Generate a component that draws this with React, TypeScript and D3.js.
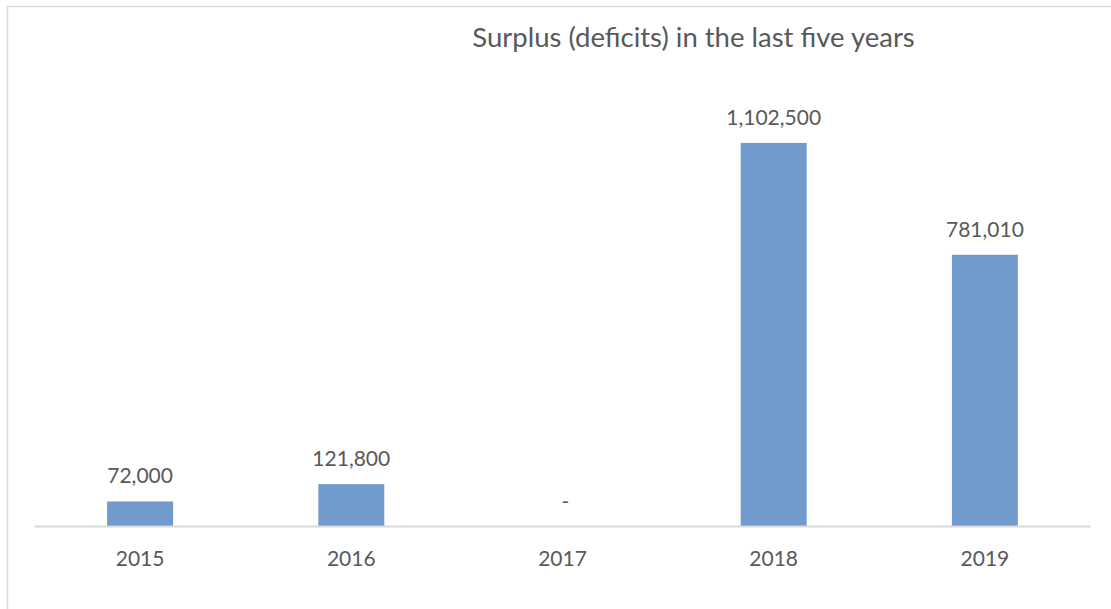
import React from "react";
import * as d3 from "d3";

const years: string[] = ["2015", "2016", "2017", "2018", "2019"];
const surplus: number[] = [72000, 121800, 0, 1102500, 781010];
const title = "Surplus (deficits) in the last five years";

const W = 1111;
const H = 609;
const FONT = "Lato, 'Open Sans', sans-serif";
const TEXT = "#595959";

export default function App() {
  const x = d3
    .scaleBand<string>()
    .domain(years)
    .range([34.5, 1090.5])
    .paddingInner(0.6875)
    .paddingOuter(0.34375);
  const y = d3.scaleLinear().domain([0, 1200000]).range([526.5, 109]);
  const fmt = d3.format(",");

  return (
    <svg
      width={W}
      height={H}
      style={{ position: "absolute", left: 0, top: 0, background: "#fff" }}
      fontFamily={FONT}
    >
      <rect x={7.5} y={6.5} width={W + 20} height={H + 20} fill="#fff" stroke="#d9d9d9" strokeWidth={1.5} />
      <text x={693.5} y={47} textAnchor="middle" fontSize={27.5} fill={TEXT}>
        {title}
      </text>
      {years.map((yr, i) => {
        const v = surplus[i];
        const bx = x(yr) as number;
        const cx = bx + x.bandwidth() / 2;
        return (
          <g key={yr}>
            {v > 0 && (
              <rect x={bx} y={y(v)} width={x.bandwidth()} height={y(0) - y(v)} fill="#729bcd" />
            )}
            <text x={cx + (v > 0 ? 0 : 3)} y={y(v) - 18} textAnchor="middle" fontSize={21} fill={TEXT}>
              {v > 0 ? fmt(v) : "-"}
            </text>
            <text x={cx} y={565.5} textAnchor="middle" fontSize={21} fill={TEXT}>
              {yr}
            </text>
          </g>
        );
      })}
      <line x1={34.5} x2={1090.5} y1={y(0)} y2={y(0)} stroke="#d9d9d9" strokeWidth={2} />
    </svg>
  );
}
